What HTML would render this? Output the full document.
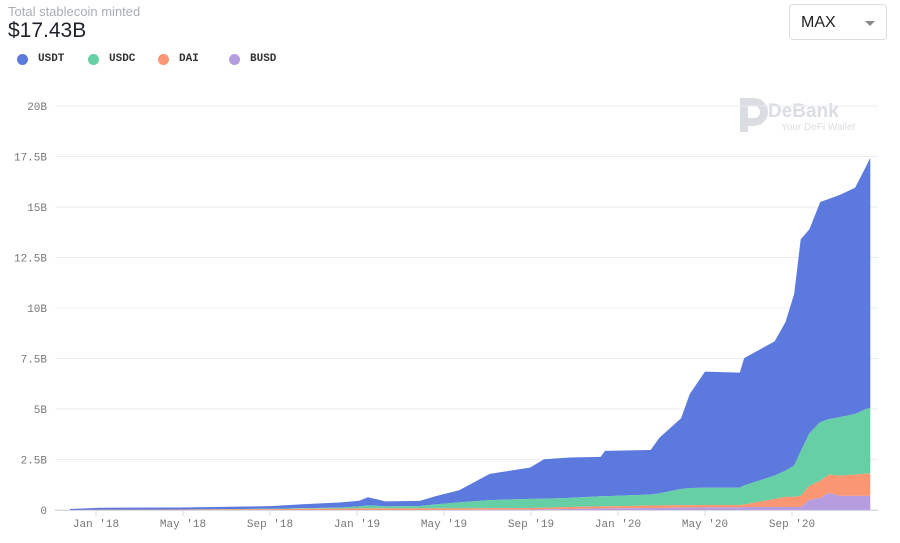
<!DOCTYPE html>
<html><head><meta charset="utf-8"><style>
body{margin:0;width:900px;height:543px;background:#fff;font-family:"Liberation Sans",sans-serif;overflow:hidden;position:relative}
.sub{position:absolute;left:8px;top:4px;font-size:13px;color:#a9adb5}
.big{position:absolute;left:8px;top:19px;font-size:21px;color:#1d2129}
.leg{position:absolute;top:53px;font-family:"Liberation Mono",monospace;font-weight:bold;font-size:11px;color:#333;display:flex;align-items:center}
.leg i{display:inline-block;width:11px;height:11px;border-radius:50%;margin-right:10px}
.sel{position:absolute;left:789px;top:4px;width:98px;height:36px;border:1px solid #ddd;border-radius:4px;box-sizing:border-box}
.sel span{position:absolute;left:11px;top:9px;font-size:16px;color:#222}
.sel b{position:absolute;right:11px;top:16px;border:5px solid transparent;border-top-color:#888;border-bottom:0}
</style></head><body>
<div class="sub">Total stablecoin minted</div>
<div class="big">$17.43B</div>
<div class="leg" style="left:17px"><i style="background:#5c79de"></i>USDT</div>
<div class="leg" style="left:88px"><i style="background:#67cfa6"></i>USDC</div>
<div class="leg" style="left:158px"><i style="background:#fb9672"></i>DAI</div>
<div class="leg" style="left:229px"><i style="background:#b69de0"></i>BUSD</div>
<div class="sel"><span>MAX</span><b></b></div>
<svg id="c" width="900" height="543" style="position:absolute;left:0;top:0">
<g fill="#dadde2">
<path d="M740 98h14a14 14 0 0 1 0 28h-6v6h-8zM748 106v12h6a6 6 0 0 0 0-12z"/>
<text x="768" y="117" font-size="19" font-weight="bold" font-family="Liberation Sans,sans-serif">DeBank</text>
<text x="781" y="130" font-size="10" font-family="Liberation Sans,sans-serif">Your DeFi Wallet</text>
</g>
</svg>
<script>
const months=[-1.2,0.18,3.86,8.0,9.6,11.2,12.1,12.5,13.3,14.9,15.6,16.7,18.1,19.95,20.6,21.8,23.2,23.4,25.5,25.9,26.9,27.3,28.0,29.6,29.8,31.2,31.7,32.1,32.4,32.8,33.3,33.7,34.2,34.9,35.4,35.6];
const usdt=[.05,.1,.1,.13,.2,.25,.28,.4,.25,.25,.4,.6,1.3,1.55,1.95,2.0,1.95,2.25,2.2,2.75,3.5,4.65,5.75,5.7,6.3,6.65,7.35,8.5,10.5,10.1,10.9,10.9,11.0,11.2,12.0,12.38];
const usdc=[0,0,.005,.02,.03,.05,.1,.15,.1,.12,.2,.3,.4,.45,.45,.45,.5,.5,.55,.6,.8,.85,.85,.85,.95,1.15,1.3,1.55,2.2,2.6,2.9,2.75,2.9,3.0,3.2,3.25];
const dai=[0,.01,.02,.04,.06,.07,.08,.08,.08,.08,.08,.08,.08,.08,.08,.1,.1,.1,.12,.12,.12,.12,.12,.12,.12,.4,.5,.5,.55,.7,.85,.9,1.0,1.05,1.1,1.1];
const busd=[0,0,0,0,0,0,0,0,0,0,0,0,.01,.02,.03,.05,.08,.08,.1,.1,.12,.12,.13,.13,.15,.15,.15,.15,.15,.5,.6,.85,.7,.7,.7,.7];
const yTicks=[0,2.5,5,7.5,10,12.5,15,17.5,20];
const yLabels=["0","2.5B","5B","7.5B","10B","12.5B","15B","17.5B","20B"];
const xTickMonths=[0,4,8,12,16,20,24,28,32];
const xLabels=["Jan '18","May '18","Sep '18","Jan '19","May '19","Sep '19","Jan '20","May '20","Sep '20"];
const X=m=>96+m*21.75, Y=v=>510-v*20.2;
const svg=document.getElementById('c'),NS='http://www.w3.org/2000/svg';
function mk(t,a){const e=document.createElementNS(NS,t);for(const k in a)e.setAttribute(k,a[k]);svg.insertBefore(e,svg.firstChild&&svg.lastChild.nextSibling);return e;}
yTicks.forEach((v,i)=>{
 const l=mk('line',{x1:55,x2:878,y1:Y(v),y2:Y(v),stroke:v?'#ececec':'#d8dbe3','stroke-width':1});
 
 
 const t=mk('text',{x:47,y:Y(v)+4,'text-anchor':'end','font-size':11,fill:'#777','font-family':'Liberation Mono,monospace'});
 t.textContent=yLabels[i];
 
 
});
const series=[[usdt,'#5c79de','usdt'],[usdc,'#67cfa6','usdc'],[dai,'#fb9672','dai'],[busd,'#b69de0','busd']];
const base=months.map(()=>0),tops=[];
for(let s=series.length-1;s>=0;s--){const arr=series[s][0];const lo=base.slice();arr.forEach((v,i)=>base[i]+=v);tops[s]=[lo,base.slice()];}
series.forEach((s,si)=>{
 const [lo,hi]=tops[si];
 let d='M'+months.map((m,i)=>X(m)+','+Y(hi[i])).join('L');
 for(let i=months.length-1;i>=0;i--)d+='L'+X(months[i])+','+Y(lo[i]);
 const p=mk('path',{d:d+'Z',fill:s[1]});
 
 
});
xTickMonths.forEach((m,i)=>{
 const l=mk('line',{x1:X(m),x2:X(m),y1:510,y2:516,stroke:'#d8dbe3'});
 
 
 const t=mk('text',{x:X(m),y:527,'text-anchor':'middle','font-size':11,fill:'#777','font-family':'Liberation Mono,monospace'});
 t.textContent=xLabels[i];
 
 
});
const ax=mk('line',{x1:55,x2:878,y1:510.5,y2:510.5,stroke:'#d8dbe3'});


</script>
</body></html>
